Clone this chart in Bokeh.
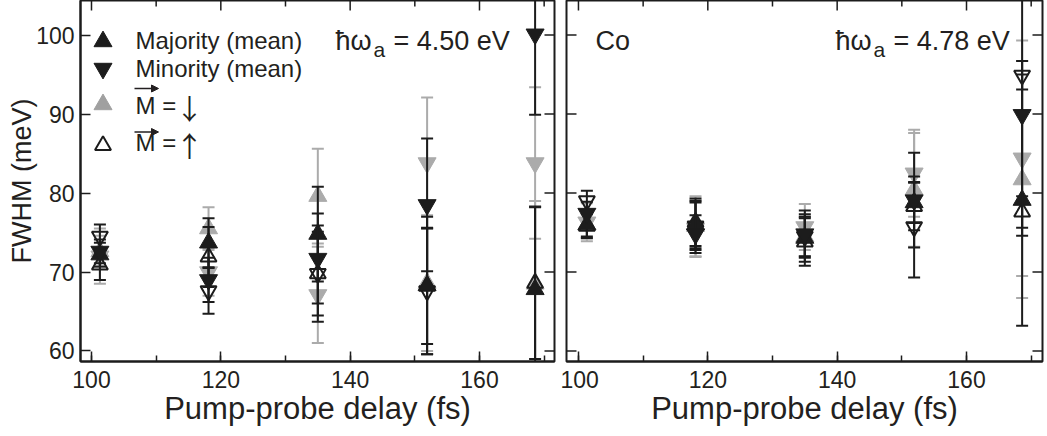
import math
from bokeh.plotting import figure
from bokeh.models import (SingleIntervalTicker, Range1d, Label, Arrow, NormalHead)
from bokeh.layouts import row
from bokeh.embed import file_html
from bokeh.resources import INLINE

NAN = float("nan")

# ---------------- data ----------------
delays = [101.3, 118.1, 135.0, 151.9, 168.6]

# left panel: hbar omega_a = 4.50 eV
l_maj_mean = [72.2, 73.7, 74.8, 68.3, 67.8]
l_maj_mean_err = [1.5, 3.1, 6.0, 8.7, 10.5]
l_min_mean = [72.6, 69.0, 71.7, 78.5, 100.1]
l_min_mean_err = [1.5, 2.8, 5.7, 8.4, 10.2]
l_dn_maj = [72.6, 75.5, 79.6, 68.6, 68.5]
l_dn_maj_err = [2.0, 2.7, 6.0, 8.6, 10.5]
l_dn_min = [72.0, 70.0, 67.1, 83.8, 83.8]
l_dn_min_err = [3.5, 3.0, 6.1, 8.3, 9.6]
l_up_maj = [70.9, 71.9, 69.8, 68.2, 68.6]
l_up_maj_err = [1.9, 3.8, 6.1, 7.3, 9.6]
l_up_min = [74.5, 67.6, 69.8, 67.6, NAN]
l_up_min_err = [1.5, 2.9, 5.3, 8.0, NAN]

# right panel: hbar omega_a = 4.78 eV (Co)
r_maj_mean = [76.0, 76.0, 74.3, 78.8, 79.1]
r_maj_mean_err = [1.5, 3.0, 3.0, 2.6, 15.9]
r_min_mean = [77.4, 74.8, 74.8, 79.1, 89.9]
r_min_mean_err = [1.5, 2.4, 3.0, 6.0, 15.3]
r_dn_maj = [76.0, 75.8, 74.5, 80.4, 81.7]
r_dn_maj_err = [1.8, 3.8, 2.5, 7.2, 15.0]
r_dn_min = [76.3, 75.5, 75.7, 82.5, 84.4]
r_dn_min_err = [2.4, 3.6, 2.9, 5.5, 14.9]
r_up_maj = [75.8, 76.3, 73.8, 78.3, 77.6]
r_up_maj_err = [1.5, 3.0, 3.0, 3.0, 2.0]
r_up_min = [79.0, 75.8, 74.5, 75.7, 94.9]
r_up_min_err = [1.3, 3.0, 2.5, 6.4, 1.8]

x_major_ticks = [100, 120, 140, 160]
x_minor_ticks = [110, 130, 150, 170]
y_major_ticks = [60, 70, 80, 90, 100]
x_label = "Pump-probe delay (fs)"
y_label = "FWHM (meV)"
legend_labels = ["Majority (mean)", "Minority (mean)", "M =", "M ="]
legend_spins = ["", "", "\u2193", "\u2191"]

# ---------------- style ----------------
BLACK = "#1c1c1c"
GRAY = "#ababab"
TXT = "#231f20"
FONT = "Liberation Sans"
ARROW_FONT = "Noto Sans CJK JP"
Y0, Y1 = 58.67, 104.37
FRAME_TOP = 0
FRAME_H = 361
FRAME_BOTTOM = FRAME_TOP + FRAME_H
H = 436
LABEL_FIX = 8  # raise labels so their baseline sits where wanted


def style_axis(ax, ticker, size, standoff):
    ax.ticker = ticker
    ax.major_tick_in = 10
    ax.major_tick_out = 0
    ax.minor_tick_in = 6
    ax.minor_tick_out = 0
    ax.axis_line_width = 2
    ax.axis_line_color = BLACK
    ax.major_tick_line_width = 1.5
    ax.minor_tick_line_width = 1.5
    ax.major_tick_line_color = BLACK
    ax.minor_tick_line_color = BLACK
    ax.major_label_text_font = FONT
    ax.major_label_text_color = TXT
    ax.axis_label_text_font = FONT
    ax.axis_label_text_color = TXT
    ax.axis_label_text_font_style = "normal"
    ax.major_label_text_font_size = size
    ax.major_label_standoff = standoff


def make_panel(width, bl, br, x0, x1, ylabels):
    p = figure(width=width, height=H, x_range=Range1d(x0, x1), y_range=Range1d(Y0, Y1),
               output_backend="svg", toolbar_location=None,
               min_border_left=bl, min_border_right=br, min_border_top=FRAME_TOP,
               min_border_bottom=H - FRAME_BOTTOM)
    p.grid.visible = False
    p.outline_line_color = BLACK
    p.outline_line_width = 2
    p.background_fill_color = "white"
    p.border_fill_color = "white"
    bx = p.xaxis[0]
    style_axis(bx, SingleIntervalTicker(interval=20, num_minor_ticks=2), "23px", 9)
    bx.axis_label = x_label
    bx.axis_label_text_font_size = "31px"
    bx.axis_label_standoff = 0
    ly = p.yaxis[0]
    if ylabels:
        style_axis(ly, SingleIntervalTicker(interval=10, num_minor_ticks=0), "23px", 6)
        ly.axis_label = y_label
        ly.axis_label_text_font_size = "27px"
        ly.axis_label_standoff = -4
    else:
        ly.visible = False
        # inward ticks on the left edge (half of each dash is clipped away)
        p.scatter([x0] * len(y_major_ticks), y_major_ticks, marker="dash", size=20,
                  line_color=BLACK, line_width=1.5)
    # mirrored inward ticks on the top and right edges
    p.scatter(x_major_ticks, [Y1] * len(x_major_ticks), marker="dash", angle=math.pi / 2,
              size=20, line_color=BLACK, line_width=1.5)
    p.scatter(x_minor_ticks, [Y1] * len(x_minor_ticks), marker="dash", angle=math.pi / 2,
              size=12, line_color=BLACK, line_width=1.5)
    p.scatter([x1] * len(y_major_ticks), y_major_ticks, marker="dash", size=20,
              line_color=BLACK, line_width=1.5)
    return p


def draw_series(p, vals, errs, marker, color, filled):
    lo = [v - e for v, e in zip(vals, errs)]
    hi = [v + e for v, e in zip(vals, errs)]
    p.segment(delays, lo, delays, hi, line_color=color, line_width=2)
    p.scatter(delays, lo, marker="dash", size=12, line_color=color, line_width=2)
    p.scatter(delays, hi, marker="dash", size=12, line_color=color, line_width=2)
    if filled:
        p.scatter(delays, vals, marker=marker, size=18, fill_color=color, line_color=color, line_width=1)
    else:
        p.scatter(delays, vals, marker=marker, size=16, fill_color=None, line_color=color, line_width=2)


def draw_all(p, d):
    (maj, maje, mn, mne, dmaj, dmaje, dmin, dmine, umaj, umaje, umin, umine) = d
    draw_series(p, dmaj, dmaje, "triangle", GRAY, True)
    draw_series(p, dmin, dmine, "inverted_triangle", GRAY, True)
    draw_series(p, umaj, umaje, "triangle", BLACK, False)
    draw_series(p, umin, umine, "inverted_triangle", BLACK, False)
    draw_series(p, maj, maje, "triangle", BLACK, True)
    draw_series(p, mn, mne, "inverted_triangle", BLACK, True)


def lab(p, text, cx, base_cy, frame_left, size, align="left", font=FONT):
    p.add_layout(Label(x=cx - frame_left, y=FRAME_BOTTOM - base_cy + LABEL_FIX,
                       x_units="screen", y_units="screen",
                       text=text, text_font=font, text_font_size=size, text_color=TXT,
                       text_baseline="alphabetic", text_align=align))


def arrow(p, x0, y0, x1, y1, frame_left, head):
    p.add_layout(Arrow(x_start=x0 - frame_left, y_start=FRAME_BOTTOM - y0,
                       x_end=x1 - frame_left, y_end=FRAME_BOTTOM - y1,
                       start_units="screen", end_units="screen",
                       line_color=TXT, line_width=1.5, end=head))


# ---------------- left panel ----------------
L_LEFT, L_W = 80, 474
LX0, LX1 = 98.3, 171.6
p1 = make_panel(560, L_LEFT, 560 - L_LEFT - L_W, LX0, LX1, True)
draw_all(p1, (l_maj_mean, l_maj_mean_err, l_min_mean, l_min_mean_err, l_dn_maj, l_dn_maj_err,
              l_dn_min, l_dn_min_err, l_up_maj, l_up_maj_err, l_up_min, l_up_min_err))


def dx(px):
    return LX0 + (px - L_LEFT) * (LX1 - LX0) / L_W


def dy(py):
    return Y1 - (py - FRAME_TOP) * (Y1 - Y0) / FRAME_H


# legend (drawn by hand so the vector arrows above M can be placed)
leg_mk = [("triangle", BLACK, True, 41), ("inverted_triangle", BLACK, True, 68),
          ("triangle", "#a0a0a0", True, 104), ("triangle", BLACK, False, 145)]
for m, c, f, py in leg_mk:
    if f:
        p1.scatter([dx(102.5)], [dy(py)], marker=m, size=18, fill_color=c, line_color=c)
    else:
        p1.scatter([dx(102.5)], [dy(py)], marker=m, size=16, fill_color=None, line_color=c, line_width=2)

for t, s, base in zip(legend_labels, legend_spins, [48.3, 76, 113.3, 150]):
    lab(p1, t, 135, base, L_LEFT, "24px")
    if s:
        lab(p1, s, 189, base + 2, L_LEFT, "28px", "center", ARROW_FONT)
for ay in [88, 131.5]:
    arrow(p1, 134, ay, 158, ay, L_LEFT, NormalHead(size=7, fill_color=TXT, line_color=TXT, line_width=1))

lab(p1, "\u0127\u03c9", 335, 48, L_LEFT, "27px")
lab(p1, "a", 373, 57, L_LEFT, "21px")
lab(p1, "= 4.50 eV", 393, 48, L_LEFT, "27px")

# ---------------- right panel ----------------
R_LEFT, R_W = 6, 476
RX0, RX1 = 98.15, 171.75
p2 = make_panel(487, R_LEFT, 487 - R_LEFT - R_W, RX0, RX1, False)
draw_all(p2, (r_maj_mean, r_maj_mean_err, r_min_mean, r_min_mean_err, r_dn_maj, r_dn_maj_err,
              r_dn_min, r_dn_min_err, r_up_maj, r_up_maj_err, r_up_min, r_up_min_err))
lab(p2, "Co", 595 - 560, 48, R_LEFT, "27px")
lab(p2, "\u0127\u03c9", 835 - 560, 48, R_LEFT, "27px")
lab(p2, "a", 873 - 560, 57, R_LEFT, "21px")
lab(p2, "= 4.78 eV", 893 - 560, 48, R_LEFT, "27px")

layout = row(p1, p2)
open("out.html", "w").write(file_html(layout, INLINE))
